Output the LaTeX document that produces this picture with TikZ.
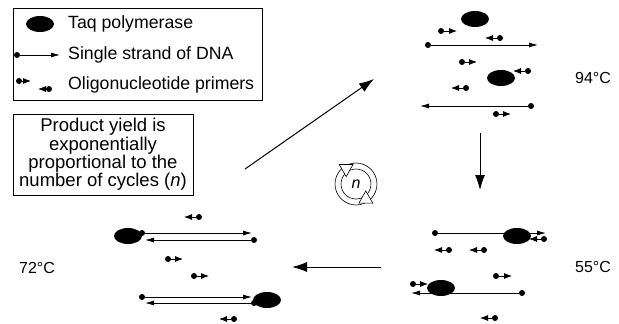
\documentclass[tikz,border=0pt]{standalone}
\usepackage{fontspec}
\setmainfont{Liberation Sans}
\usetikzlibrary{arrows.meta,shapes.geometric}
\newcommand\primerat[4]{%
  \node[dotn] (#1) at (#2,#3) {};
  \coordinate (#1e) at (#2+#4,#3);
  \draw[primer] (#1) -- (#1e);}
\newcommand\strandat[4]{%
  \node[dotn] (#1) at (#2,#4) {};
  \coordinate (#1e) at (#3,#4);
  \draw[strand] (#1) -- (#1e);}
\begin{document}
\begin{tikzpicture}[x=1pt,y=-1pt,
  dotn/.style={circle,fill=black,inner sep=0pt,minimum size=6pt},
  taq/.style={ellipse,fill=black,inner sep=0pt,minimum width=28pt,minimum height=16pt},
  primer/.style={line width=0.8pt,-{Latex[length=8pt,width=6pt]}},
  strand/.style={line width=0.8pt,-{Latex[length=9pt,width=5pt]}},
  bigarrow/.style={line width=1pt,-{Latex[length=15pt,width=10pt]}},
  legtxt/.style={font=\fontsize{17.7}{18}\selectfont,inner sep=0pt,anchor=west},
  temp/.style={font=\fontsize{16}{18}\selectfont,inner sep=0pt},
  box/.style={draw,line width=0.8pt,inner sep=0pt}
]
\useasboundingbox (0,0) rectangle (619,324);

% legend
\node[box,minimum width=249pt,minimum height=92pt] (legend) at (137.5,54) {};
\node[taq] (ltaq) at (40,24) {};
\node[legtxt] (t1) at (68,24) {Taq polymerase};
\strandat{ls}{17}{60}{55}
\node[legtxt] (t2) at (68,55) {Single strand of DNA};
\primerat{lp1}{19}{81}{12}
\primerat{lp2}{49}{89}{-11}
\node[legtxt] (t3) at (68,85) {Oligonucleotide primers};

% product box
\node[box,minimum width=180pt,minimum height=81pt,align=center,
  font=\fontsize{18.5}{18.3}\selectfont] (prod) at (103,154.5)
  {Product yield is\\exponentially\\proportional to the\\number of cycles (\textit{n})};

% 94 C group
\strandat{a1}{428}{538}{45}
\strandat{a2}{531}{420}{106}
\node[taq] (ta1) at (475,19) {};
\node[taq] (ta2) at (501,78) {};
\primerat{ap1}{441}{31}{16}
\primerat{ap2}{500}{38}{-15}
\primerat{ap3}{462}{62}{15}
\primerat{ap4}{528}{71}{-15}
\primerat{ap5}{466}{88}{-15}
\primerat{ap6}{496}{114}{15}
\node[temp] (t94) at (593,78) {94°C};

% 55 C group
\strandat{b1}{435}{546}{233}
\strandat{b2}{522}{411}{293}
\node[taq] (tb1) at (517,236) {};
\node[taq] (tb2) at (441,288) {};
\primerat{bp1}{544}{239}{-15}
\primerat{bp2}{449}{250}{-15}
\primerat{bp3}{484}{250}{-15}
\primerat{bp4}{496}{276}{16}
\primerat{bp5}{413}{284}{15}
\primerat{bp6}{495}{318}{-15}
\node[temp] (t55) at (593,267) {55°C};

% 72 C group
\strandat{c1}{142}{252}{233}
\strandat{c2}{254}{145}{240}
\strandat{c3}{142}{252}{297}
\strandat{c4}{254}{145}{303}
\node[taq] (tc1) at (128,236) {};
\node[taq] (tc2) at (267,300) {};
\primerat{cp1}{199}{217}{-15}
\primerat{cp2}{168}{259}{15}
\primerat{cp3}{194}{276}{15}
\primerat{cp4}{234}{319}{-15}
\node[temp] (t72) at (37,268) {72°C};

% big arrows
\coordinate (d1) at (245,169);
\coordinate (d2) at (374,79);
\draw[bigarrow] (d1) -- (d2);
\coordinate (v1) at (480,133);
\coordinate (v2) at (480,190);
\draw[bigarrow] (v1) -- (v2);
\coordinate (h1) at (381,267);
\coordinate (h2) at (292,267);
\draw[bigarrow] (h1) -- (h2);

% cycle symbol
\node[circle,draw,line width=0.6pt,minimum size=42pt,inner sep=0pt] (cyc) at (356,184) {};
\node[circle,draw,line width=0.6pt,minimum size=30pt,inner sep=0pt,
  font=\fontsize{16}{18}\selectfont] (cyci) at (356,184) {\textit{n}};
\draw[line width=0.6pt,fill=white] (353,164.5) -- (339.2,164.5) -- (346.2,176.6) -- cycle;
\draw[line width=0.6pt,fill=white] (358.9,203.1) -- (372.8,203.2) -- (365.8,191.0) -- cycle;
\end{tikzpicture}
\end{document}
